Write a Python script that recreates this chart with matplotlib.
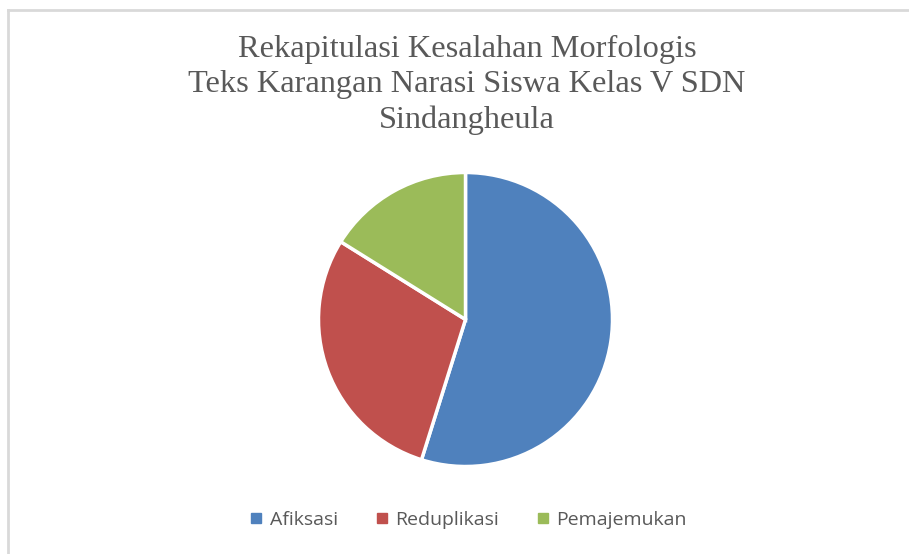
import matplotlib.pyplot as plt
from matplotlib.lines import Line2D

# ---------- DATA ----------
labels = ['Afiksasi', 'Reduplikasi', 'Pemajemukan']
values = [34, 18, 10]
colors = ['#4F81BD', '#C0504D', '#9BBB59']
title = 'Rekapitulasi Kesalahan Morfologis\nTeks Karangan Narasi Siswa Kelas V SDN\nSindangheula'

W, H = 909, 554
fig = plt.figure(figsize=(W / 100, H / 100), dpi=100)

# chart area border (top + left visible, rest cropped)
border = '#D9D9D9'
fig.add_artist(Line2D([8 / W, 1], [1 - 10 / H, 1 - 10 / H], color=border, lw=2))
fig.add_artist(Line2D([8 / W, 8 / W], [0, 1 - 10 / H], color=border, lw=2))

# pie centred at (465, 319) px, radius 147 px
cx, cy, r = 465.5, 319.5, 147
ax = fig.add_axes([(cx - r) / W, (H - cy - r) / H, 2 * r / W, 2 * r / H])
wedges, _ = ax.pie(values, colors=colors, startangle=90, counterclock=False,
                   wedgeprops=dict(edgecolor='white', linewidth=2.5))
ax.set_xlim(-1, 1)
ax.set_ylim(-1, 1)

fig.text(467 / W, 1 - 85 / H, title, ha='center', va='center',
         fontsize=23.3, color='#595959', family='Liberation Serif', linespacing=1.27)

handles = [Line2D([], [], marker='s', ls='', color=c, markersize=6.5) for c in colors]
fig.legend(handles, labels, loc='center', bbox_to_anchor=(468 / W, 1 - 520 / H),
           ncol=3, frameon=False, handlelength=0.7, handletextpad=0.35, columnspacing=1.9,
           prop={'family': 'Open Sans', 'size': 14}, labelcolor='#595959')

fig.savefig('out.png', dpi=100)
